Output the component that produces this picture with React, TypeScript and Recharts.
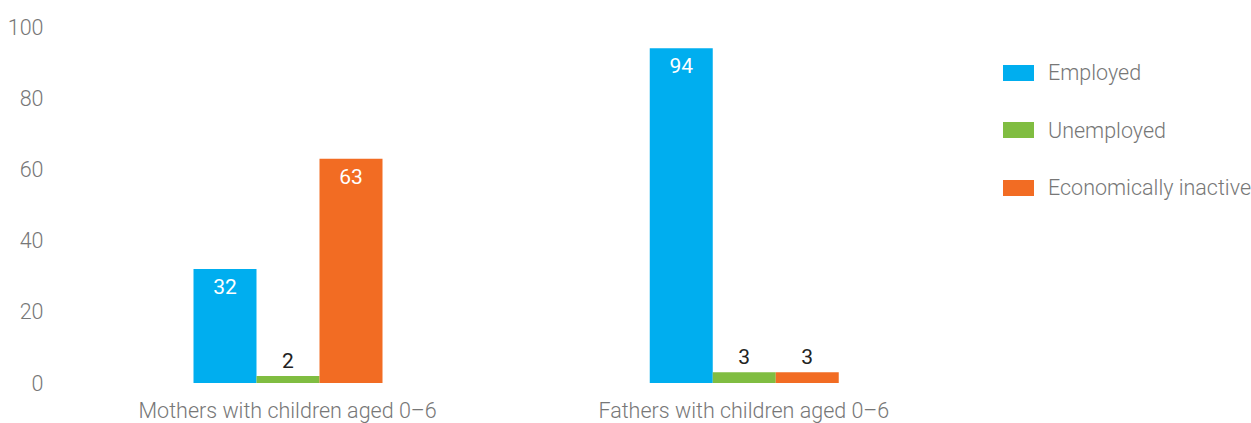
import { Bar, BarChart, LabelList, XAxis, YAxis } from "recharts";

const groups = ["Mothers with children aged 0–6", "Fathers with children aged 0–6"];
const employed = [32, 94];
const unemployed = [2, 3];
const inactive = [63, 3];
const yTicks = [0, 20, 40, 60, 80, 100];

const series = [
  { key: "employed", name: "Employed", color: "#00AEEF" },
  { key: "unemployed", name: "Unemployed", color: "#80BD41" },
  { key: "inactive", name: "Economically inactive", color: "#F26C23" },
];

const data = groups.map((g, i) => ({
  group: g,
  employed: employed[i],
  unemployed: unemployed[i],
  inactive: inactive[i],
}));

const FONT = "Roboto, sans-serif";
const TEXT = "#777";

// big bars get a white label inside the top, tiny ones a dark label above
// eslint-disable-next-line @typescript-eslint/no-explicit-any
const ValueLabel = (props: any) => {
  const { x, y, width, value } = props;
  const inside = value > 10;
  return (
    <text
      x={x + width / 2}
      y={inside ? y + 25 : y - 8}
      textAnchor="middle"
      fontFamily={FONT}
      fontWeight={400}
      fontSize={21}
      fill={inside ? "#ffffff" : "#222222"}
    >
      {value}
    </text>
  );
};

const LegendBox = () => (
  <div
    style={{
      position: "absolute",
      left: 1003,
      top: 44,
      fontFamily: FONT,
      fontWeight: 300,
      fontSize: 21.5,
      color: TEXT,
    }}
  >
    {series.map((s) => (
      <div key={s.key} style={{ display: "flex", alignItems: "center", height: 57.5, whiteSpace: "nowrap" }}>
        <span style={{ width: 31, height: 16, background: s.color, marginRight: 14 }} />
        <span>{s.name}</span>
      </div>
    ))}
  </div>
);

export default function App() {
  return (
    <div style={{ position: "absolute", left: 0, top: 0, width: 1251, height: 423, background: "#fff" }}>
      <BarChart
        width={1251}
        height={423}
        data={data}
        margin={{ top: 27, right: 279, left: 0, bottom: 10 }}
        barGap={0}
        barSize={63}
      >
        <XAxis
          dataKey="group"
          height={30}
          axisLine={false}
          tickLine={false}
          tickSize={0}
          tickMargin={20}
          tick={{ fill: TEXT, fontSize: 21.5, fontFamily: FONT, fontWeight: 300 }}
          interval={0}
        />
        <YAxis
          width={59.5}
          domain={[0, 100]}
          ticks={yTicks}
          axisLine={false}
          tickLine={false}
          tickSize={0}
          tickMargin={16}
          tick={{ fill: TEXT, fontSize: 21.5, fontFamily: FONT, fontWeight: 300 }}
        />
        {series.map((s) => (
          <Bar key={s.key} dataKey={s.key} name={s.name} fill={s.color} isAnimationActive={false}>
            <LabelList dataKey={s.key} content={<ValueLabel />} />
          </Bar>
        ))}
      </BarChart>
      <LegendBox />
    </div>
  );
}
